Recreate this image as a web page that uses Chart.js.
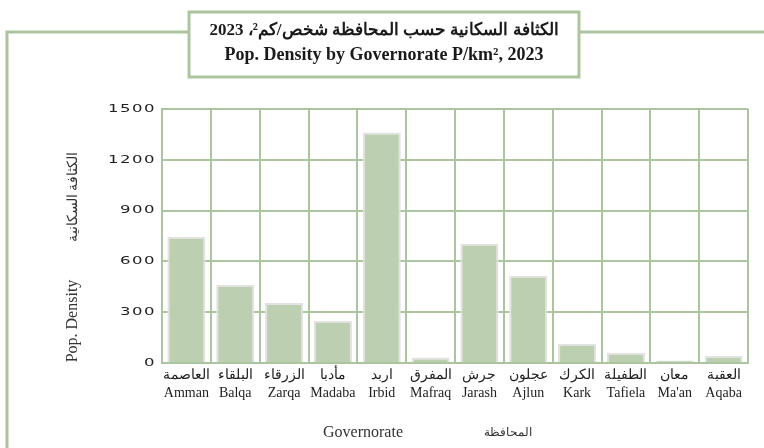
<!DOCTYPE html>
<html>
<head>
<meta charset="utf-8">
<script src="https://cdn.jsdelivr.net/npm/chart.js@4/dist/chart.umd.min.js"></script>
<style>
  html, body { margin: 0; padding: 0; background: #ffffff; }
  #wrap { position: relative; width: 764px; height: 448px; }
</style>
</head>
<body>
<div id="wrap"><canvas id="c" width="764" height="448"></canvas></div>
<script>
const categoriesAr = ["العاصمة", "البلقاء", "الزرقاء", "مأدبا", "اربد", "المفرق", "جرش", "عجلون", "الكرك", "الطفيلة", "معان", "العقبة"];
const categoriesEn = ["Amman", "Balqa", "Zarqa", "Madaba", "Irbid", "Mafraq", "Jarash", "Ajlun", "Kark", "Tafiela", "Ma'an", "Aqaba"];
const density = [745, 461, 355, 248, 1361, 33, 704, 515, 112, 59, 15, 41];
const yTicks = [0, 300, 600, 900, 1200, 1500];
const titleAr = "الكثافة السكانية حسب المحافظة شخص/كم²، 2023";
const titleEn = "Pop. Density by Governorate P/km², 2023";
const yTitleEn = "Pop. Density";
const yTitleAr = "الكثافة السكانية";
const xTitleEn = "Governorate";
const xTitleAr = "المحافظة";

const GREEN = '#adc59e';
const SERIF = '"Liberation Serif", "DejaVu Serif", serif';

const labels = categoriesEn.map((en, i) => [categoriesAr[i], en]);

const decor = {
  id: 'decor',
  beforeDraw(chart) {
    const ctx = chart.ctx;
    ctx.save();
    ctx.fillStyle = '#ffffff';
    ctx.fillRect(0, 0, chart.width, chart.height);
    ctx.strokeStyle = GREEN;
    ctx.lineWidth = 3;
    ctx.beginPath();
    ctx.moveTo(7, 449);
    ctx.lineTo(7, 32);
    ctx.lineTo(189, 32);
    ctx.moveTo(579, 32);
    ctx.lineTo(766, 32);
    ctx.stroke();
    ctx.fillStyle = '#ffffff';
    ctx.fillRect(189, 12, 390, 65);
    ctx.strokeRect(189, 12, 390, 65);
    ctx.restore();
  },
  afterDraw(chart) {
    const ctx = chart.ctx;
    const yScale = chart.scales.y;
    ctx.save();
    ctx.fillStyle = '#1a1a1a';
    ctx.textAlign = 'center';
    ctx.textBaseline = 'middle';
    ctx.font = 'bold 17px ' + SERIF;
    ctx.fillText(titleAr, 384, 31);
    ctx.font = 'bold 18px ' + SERIF;
    ctx.fillText(titleEn, 384, 55);

    ctx.fillStyle = '#333333';
    ctx.font = '16px ' + SERIF;
    ctx.fillText(xTitleEn, 363, 433);
    ctx.font = '12px ' + SERIF;
    ctx.fillText(xTitleAr, 508, 433);

    ctx.save();
    ctx.translate(73, 321);
    ctx.rotate(-Math.PI / 2);
    ctx.font = '16px ' + SERIF;
    ctx.fillText(yTitleEn, 0, 0);
    ctx.restore();
    ctx.save();
    ctx.translate(73, 197);
    ctx.rotate(-Math.PI / 2);
    ctx.font = '14px ' + SERIF;
    ctx.fillText(yTitleAr, 0, 0);
    ctx.restore();

    // y tick labels (wide lettering)
    ctx.fillStyle = '#222222';
    ctx.font = '11px "DejaVu Sans", sans-serif';
    ctx.textAlign = 'right';
    yTicks.forEach(v => {
      const py = yScale.getPixelForValue(v);
      ctx.save();
      ctx.translate(156, py);
      ctx.scale(1.5, 1);
      ctx.letterSpacing = '1px';
      ctx.fillText(String(v), 0, 0);
      ctx.restore();
    });
    ctx.restore();
  }
};

new Chart(document.getElementById('c'), {
  type: 'bar',
  data: {
    labels: labels,
    datasets: [{
      data: density,
      backgroundColor: '#bccfb0',
      borderColor: '#e2e2e2',
      borderWidth: 2,
      categoryPercentage: 0.82,
      barPercentage: 0.95
    }]
  },
  options: {
    responsive: false,
    animation: false,
    devicePixelRatio: 1,
    layout: { padding: { left: 0, top: 109, right: 16, bottom: 0 } },
    plugins: {
      legend: { display: false },
      tooltip: { enabled: false },
      title: { display: false }
    },
    scales: {
      x: {
        grid: { color: GREEN, lineWidth: 2, drawTicks: false, offset: true },
        border: { color: GREEN, width: 2 },
        ticks: {
          color: '#222222',
          font: { family: SERIF, size: 14, lineHeight: 1.3 },
          padding: 3,
          maxRotation: 0,
          autoSkip: false
        },
        afterFit(scale) { scale.height = 85; }
      },
      y: {
        min: 0,
        max: 1500,
        afterBuildTicks(scale) { scale.ticks = yTicks.map(v => ({ value: v })); },
        grid: { color: GREEN, lineWidth: 2, drawTicks: false },
        border: { color: GREEN, width: 2 },
        ticks: { display: false },
        afterFit(scale) { scale.width = 162; }
      }
    }
  },
  plugins: [decor]
});
</script>
</body>
</html>
